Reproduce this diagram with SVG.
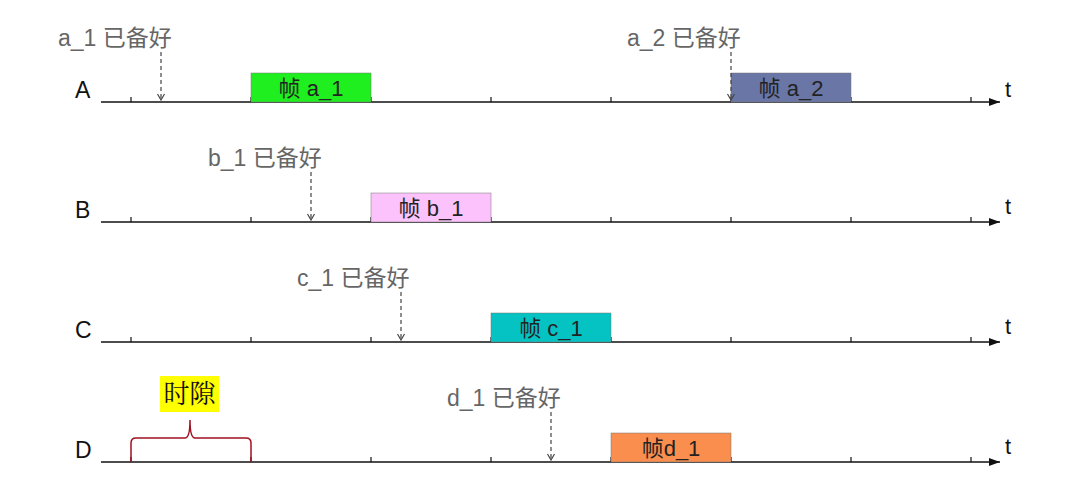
<svg xmlns="http://www.w3.org/2000/svg" width="1066" height="484" viewBox="0 0 1066 484">
<defs>
<marker id="axh" markerWidth="12" markerHeight="10" refX="11" refY="5" orient="auto" markerUnits="userSpaceOnUse"><path d="M0,1 L11,5 L0,9 Z" fill="#111"/></marker>
<marker id="dh" markerWidth="8" markerHeight="8" refX="7" refY="4" orient="auto" markerUnits="userSpaceOnUse"><path d="M1,0.5 L7,4 L1,7.5" fill="none" stroke="#444" stroke-width="1.2"/></marker>
</defs>
<style>
.axis{stroke:#111;stroke-width:1.5;fill:none}
.tick{stroke:#111;stroke-width:1.2}
.row{font-family:"Liberation Sans","Noto Sans CJK SC",sans-serif;font-size:23px;fill:#111}
.t{font-family:"Liberation Sans","Noto Sans CJK SC",sans-serif;font-size:22px;fill:#111}
.rdy{font-family:"Liberation Sans","Noto Sans CJK SC",sans-serif;font-size:23px;fill:#666}
.frm{font-family:"Liberation Sans","Noto Sans CJK SC",sans-serif;font-size:22px;fill:#222;text-anchor:middle}
.dash{stroke:#444;stroke-width:1.2;stroke-dasharray:4,3;fill:none}
.box{stroke:#777;stroke-width:0.5}
</style>
<rect width="1066" height="484" fill="#fff"/>

<g id="axes">
<g id="axis-A">
<text class="row" x="75" y="98">A</text>
<line class="axis" x1="101" y1="102" x2="1000" y2="102" marker-end="url(#axh)"/>
<path class="tick" d="M131,97V102M251,97V102M371,97V102M491,97V102M611,97V102M731,97V102M851,97V102M971,97V102"/>
<text class="t" x="1005" y="97">t</text>
</g>
<g id="axis-B">
<text class="row" x="75" y="218">B</text>
<line class="axis" x1="101" y1="222" x2="1000" y2="222" marker-end="url(#axh)"/>
<path class="tick" d="M131,217V222M251,217V222M371,217V222M491,217V222M611,217V222M731,217V222M851,217V222M971,217V222"/>
<text class="t" x="1005" y="214">t</text>
</g>
<g id="axis-C">
<text class="row" x="75" y="338">C</text>
<line class="axis" x1="101" y1="342" x2="1000" y2="342" marker-end="url(#axh)"/>
<path class="tick" d="M131,337V342M251,337V342M371,337V342M491,337V342M611,337V342M731,337V342M851,337V342M971,337V342"/>
<text class="t" x="1005" y="334">t</text>
</g>
<g id="axis-D">
<text class="row" x="75" y="458">D</text>
<line class="axis" x1="101" y1="462" x2="1000" y2="462" marker-end="url(#axh)"/>
<path class="tick" d="M131,457V462M251,457V462M371,457V462M491,457V462M611,457V462M731,457V462M851,457V462M971,457V462"/>
<text class="t" x="1005" y="454">t</text>
</g>
</g>

<g id="frame-a1"><rect class="box" x="251" y="73" width="120" height="29" fill="#1fee1f"/><text class="frm" x="311" y="96">帧 a_1</text></g>
<g id="frame-a2"><rect class="box" x="731" y="73" width="120" height="29" fill="#6a76a6"/><text class="frm" x="791" y="96">帧 a_2</text></g>
<g id="frame-b1"><rect class="box" x="371" y="193" width="120" height="29" fill="#fbc2fb"/><text class="frm" x="431" y="216">帧 b_1</text></g>
<g id="frame-c1"><rect class="box" x="491" y="313" width="120" height="29" fill="#05c3c3"/><text class="frm" x="551" y="336">帧 c_1</text></g>
<g id="frame-d1"><rect class="box" x="611" y="433" width="120" height="29" fill="#f98e4e"/><text class="frm" x="671" y="456">帧d_1</text></g>

<g id="ready-a1"><text class="rdy" x="58" y="46">a_1 已备好</text></g>
<g id="ready-a2"><text class="rdy" x="627" y="46">a_2 已备好</text></g>
<g id="ready-b1"><text class="rdy" x="208" y="166">b_1 已备好</text></g>
<g id="ready-c1"><text class="rdy" x="297" y="286">c_1 已备好</text></g>
<g id="ready-d1"><text class="rdy" x="447" y="406">d_1 已备好</text></g>

<g id="slot">
<rect x="160" y="376" width="59" height="36" fill="#ffff00"/>
<text x="189.5" y="403" text-anchor="middle" font-family="'Noto Serif CJK SC','Noto Sans CJK SC',serif" font-size="26" fill="#111">时隙</text>
</g>

<g id="connectors">
<line class="dash" x1="161" y1="52" x2="161" y2="100" marker-end="url(#dh)"/>
<line class="dash" x1="731" y1="52" x2="731" y2="100" marker-end="url(#dh)"/>
<line class="dash" x1="311" y1="172" x2="311" y2="220" marker-end="url(#dh)"/>
<line class="dash" x1="401" y1="292" x2="401" y2="340" marker-end="url(#dh)"/>
<line class="dash" x1="551" y1="412" x2="551" y2="460" marker-end="url(#dh)"/>
<path d="M131,462 V443 Q131,438 136,438 H185 Q190,438 190,420 Q190,438 195,438 H246 Q251,438 251,443 V462" fill="none" stroke="#a01020" stroke-width="1.5"/>
</g>
</svg>
